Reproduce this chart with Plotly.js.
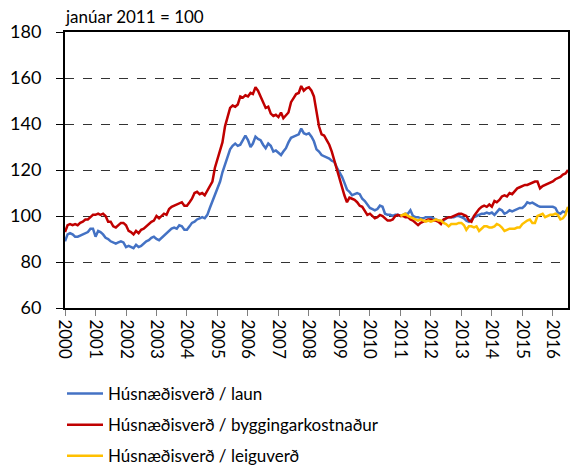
<!DOCTYPE html>
<html>
<head>
<meta charset="utf-8">
<script src="https://cdn.plot.ly/plotly-3.0.1.min.js"></script>
<style>html,body{margin:0;padding:0;background:#fff;}#chart{width:570px;height:469px;}</style>
</head>
<body>
<div id="chart"></div>
<script>
// Monthly series, January 2000 to July 2016 (index: janúar 2011 = 100)
var startYear = 2000;
var yearTicks = ['2000','2001','2002','2003','2004','2005','2006','2007','2008','2009','2010','2011','2012','2013','2014','2015','2016'];

var seriesNames = ['Húsnæðisverð / laun', 'Húsnæðisverð / byggingarkostnaður', 'Húsnæðisverð / leiguverð'];

var laun = [
  89, 92, 92.5, 92, 91, 91, 91.5, 92, 92.5, 93, 94.5, 94.5,
  91, 93.5, 93, 92, 90.5, 90, 89, 88.5, 88, 88.5, 89, 88.5,
  86.5, 87, 86.5, 86, 87.5, 86.5, 87, 88, 89, 89.5, 90.5, 91,
  90, 89.5, 90.5, 91.5, 92.5, 93.5, 94.5, 95, 94.5, 96, 95.5, 94,
  94, 95.5, 97, 97.5, 98.5, 99, 99.5, 99, 100.5, 103.5, 106.5, 109.5,
  112, 115, 119, 122.5, 126, 129, 130.5, 131.5, 130.5, 131, 133, 135,
  133, 130, 131.5, 134.5, 133.5, 133, 131, 129.5, 131.5, 130.5, 128, 128.5,
  127.5, 126.5, 128, 129.5, 132, 134, 134.5, 135, 135.5, 138, 136, 135.5,
  136, 134.5, 132.5, 129, 128, 126.5, 126, 125.5, 125, 124, 123.5, 121,
  119, 117, 114.5, 111.5, 110.5, 109, 109.5, 110, 109.5, 107.5, 106.5, 105,
  103.5, 103, 102.5, 103, 104.5, 104, 101, 100.5, 100.5, 100, 100.5, 100.5,
  100, 100.5, 101, 101, 102.5, 100, 99.5, 99.5, 99, 99, 99.5, 99.5,
  99.5, 99, 98.5, 98, 97.5, 98, 99, 99.5, 99.5, 99.5, 100, 100,
  99.5, 99, 98, 97.5, 98.5, 99.5, 100, 100.5, 101, 101, 101.5, 101,
  101.5, 100.5, 101.5, 103, 102.5, 101, 101.5, 102.5, 102, 102.5, 103, 103.5,
  103.5, 104.5, 106, 105.5, 105.8, 105, 104.5, 104, 104, 103.8, 103.8, 104,
  104, 103.5, 101.5, 101, 102, 101.5, 103.5
];

var byggingarkostnadur = [
  93, 96, 96.5, 96, 96.5, 96, 97, 97.5, 98.5, 98.5, 99.5, 100.5,
  100.5, 101, 100.5, 101, 100, 97.5, 97.5, 95.5, 95, 96, 97, 97,
  96, 93.5, 93, 92, 93.5, 92.5, 94, 94.5, 95.5, 96.5, 97.5, 98,
  100, 99, 100, 101, 100.5, 103, 104, 104.5, 105, 105.5, 106, 104.5,
  104.5, 106, 107.5, 110, 110.5, 109.5, 110, 109, 111, 113.5, 115, 121,
  125, 128, 132, 139, 143, 147, 148, 147.5, 148.5, 152, 151.5, 152.5,
  152, 153.5, 153, 156, 154.5, 152, 149, 147, 147.5, 144.5, 143.5, 144,
  143, 145, 142.5, 144, 145, 149.5, 151, 153, 153.5, 156.5, 154.5, 155.5,
  156, 154.5, 152, 145, 139, 135.5, 135, 133, 131, 128, 124, 120,
  116, 112, 109, 106, 108, 107.5, 107, 106, 104.5, 104, 102, 100.5,
  101, 100, 99, 99.5, 100.5, 100, 99, 98, 98, 98.5, 100, 100.5,
  100, 100, 99.5, 99.5, 98.5, 98, 97, 96, 97, 97.5, 98, 98.5,
  98.5, 98, 98, 97.5, 96.5, 98.5, 99, 99.5, 99.5, 100, 100.5, 101,
  101, 100.5, 100, 98, 97.5, 100, 101.5, 103, 104, 104.5, 104, 105,
  104, 106.5, 106, 107, 108.5, 109, 108.5, 110, 109.5, 111, 112, 112.5,
  113, 113.5, 113.5, 114, 114.5, 115, 115, 112, 113, 113.5, 114, 114.5,
  115, 116, 116.5, 117, 118, 118.5, 120
];

// leiguverð starts in January 2011 (month index 132)
var leiguverdStart = 132;
var leiguverd = [
  100, 100.5, 101, 100, 99.5, 99, 98.5, 98, 98.5, 98, 97.5, 98,
  97.5, 98, 98.5, 98, 98, 97, 96.5, 95.5, 96.5, 96.5, 96.5, 97,
  97, 96, 94, 95.5, 95.5, 95, 95.5, 93.5, 94.5, 95.5, 95.5, 95,
  95, 95.5, 96.5, 96, 95, 93.5, 94, 94.5, 94.5, 94.5, 95, 95,
  96.5, 97.5, 98, 98.5, 97, 97, 100, 100.5, 101, 99.5, 100, 100.5,
  100.5, 101, 100.5, 98.5, 99, 100.5, 104
];

var colors = ['#4472C4', '#C00000', '#FFC000'];

function monthDate(i) {
  var y = startYear + Math.floor(i / 12);
  var m = (i % 12) + 1;
  return y + '-' + (m < 10 ? '0' + m : m) + '-01';
}
var months = [];
for (var i = 0; i < laun.length; i++) months.push(monthDate(i));
var monthsL = months.slice(leiguverdStart, leiguverdStart + leiguverd.length);

var font = 'Lato, "Open Sans", sans-serif';

var traces = [
  {x: months, y: laun, name: seriesNames[0], legendgroup: 'a', type: 'scatter', mode: 'lines', line: {color: colors[0], width: 2.5}},
  {x: months, y: byggingarkostnadur, name: seriesNames[1], legendgroup: 'b', type: 'scatter', mode: 'lines', line: {color: colors[1], width: 2.5}},
  {x: monthsL, y: leiguverd, name: seriesNames[2], legendgroup: 'c', type: 'scatter', mode: 'lines', line: {color: colors[2], width: 2.5}}
];

var layout = {
  width: 570, height: 469,
  margin: {l: 65, r: 2, t: 32, b: 161, pad: 0, autoexpand: false},
  paper_bgcolor: '#fff', plot_bgcolor: '#fff',
  font: {family: font, size: 17, color: '#000'},
  title: {text: 'janúar 2011 = 100', x: 66/570, xanchor: 'left', xref: 'container', y: 1 - 17/469, yref: 'container', yanchor: 'middle', font: {family: font, size: 17, color: '#000'}},
  xaxis: {
    type: 'date',
    range: [monthDate(0), monthDate(laun.length - 1)],
    tickvals: yearTicks.map(function (y) { return y + '-01-01'; }),
    ticktext: yearTicks,
    tickangle: 90,
    ticks: 'outside', ticklen: 6, tickcolor: '#7f7f7f', tickwidth: 1,
    showgrid: false, zeroline: false, automargin: false,
    showline: true, linecolor: '#000', linewidth: 2, mirror: true,
    tickfont: {family: font, size: 17, color: '#000'}
  },
  yaxis: {
    range: [60, 180], dtick: 20, tick0: 60,
    ticks: 'outside', ticklen: 7, tickcolor: '#000', tickwidth: 1,
    ticklabelstandoff: 11,
    showgrid: true, gridcolor: '#333', griddash: 'dash', gridwidth: 1,
    zeroline: false, automargin: false,
    showline: true, linecolor: '#000', linewidth: 2, mirror: true,
    tickfont: {family: font, size: 18, color: '#000'}
  },
  showlegend: true,
  legend: {
    orientation: 'v', x: 62/570, xref: 'container', xanchor: 'left', y: 1 - 376/469, yref: 'container', yanchor: 'top',
    traceorder: 'grouped', tracegroupgap: 6, itemwidth: 36,
    font: {family: font, size: 17, color: '#000'},
    bgcolor: 'rgba(0,0,0,0)'
  }
};

Plotly.newPlot('chart', traces, layout, {displayModeBar: false, staticPlot: true});
</script>
</body>
</html>
